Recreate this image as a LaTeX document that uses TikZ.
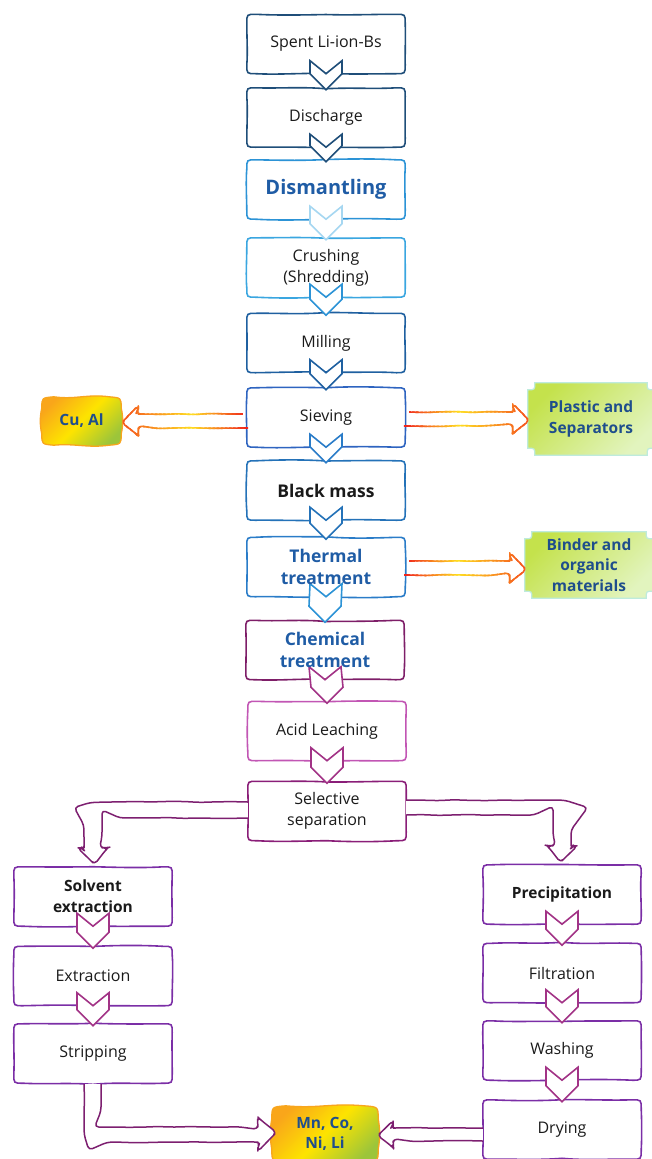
\documentclass[tikz,border=0pt]{standalone}
\usepackage{fontspec}
\setmainfont{Open Sans}
\usetikzlibrary{calc,decorations.pathmorphing}
\pgfdeclarelayer{background}
\pgfdeclarelayer{mid}
\pgfsetlayers{background,mid,main}

\definecolor{navy}{HTML}{1F4E79}
\definecolor{dblue}{HTML}{2C93D6}
\definecolor{lblue}{HTML}{3AA6E0}
\definecolor{mblue}{HTML}{1F60A0}
\definecolor{sblue}{HTML}{2E64C0}
\definecolor{kblue}{HTML}{2472B8}
\definecolor{tblue}{HTML}{2A7CC8}
\definecolor{plum}{HTML}{7E1E68}
\definecolor{pinkv}{HTML}{C256B4}
\definecolor{selv}{HTML}{8A1E78}
\definecolor{viol}{HTML}{7B2EA6}
\definecolor{barrow}{HTML}{7D1F70}
\definecolor{chpur}{HTML}{A23386}
\definecolor{txt}{HTML}{1A1A1A}
\definecolor{btxt}{HTML}{1F5CA5}
\definecolor{blobtxt}{HTML}{1F4E8C}
\definecolor{gred}{HTML}{F0261C}
\definecolor{gyel}{HTML}{FFDD22}
\definecolor{gtip}{HTML}{F55A1E}
\definecolor{cuor}{HTML}{F9A61A}
\definecolor{cuyel}{HTML}{FDE400}
\definecolor{cugrn}{HTML}{9CC53A}
\definecolor{cuedge}{HTML}{F8A51E}
\definecolor{gntop}{HTML}{C4E24C}
\definecolor{gnbot}{HTML}{E2F4BE}
\definecolor{gnedge}{HTML}{BEEBDD}

\newcommand\regf{\fontsize{16}{21}\selectfont}
\newcommand\bigbf{\fontsize{20}{24}\bfseries\selectfont}
\newcommand\midbf{\fontsize{17.5}{22}\bfseries\selectfont}
\newcommand\smbf{\fontsize{15.5}{21}\bfseries\selectfont}
\newcommand\blobf{\fontsize{15.5}{20.5}\bfseries\selectfont}

\tikzset{
  box/.style={minimum width=158pt, minimum height=59pt, inner sep=0pt, align=center, font=\regf, text=txt},
  wobA/.style={decorate, decoration={random steps, segment length=16pt, amplitude=0.6pt}, rounded corners=4pt},
  chevst/.style={fill=white, line width=1.6pt, line join=miter},
  blob/.style={inner sep=0pt, align=center, font=\blobf, text=blobtxt},
  parrow/.style={draw=barrow, fill=white, line width=1.5pt, wobA, line join=round}
}

% hand-drawn rounded box round node #1 in colour #2
\newcommand\handbox[2]{%
  \pgfmathsetmacro\ra{1.5*rand}\pgfmathsetmacro\rb{1.5*rand}%
  \pgfmathsetmacro\rc{1.5*rand}\pgfmathsetmacro\rd{1.5*rand}%
  \pgfmathsetmacro\re{1.5*rand}\pgfmathsetmacro\rf{1.5*rand}%
  \pgfmathsetmacro\rg{1.5*rand}\pgfmathsetmacro\rh{1.5*rand}%
  \pgfmathsetmacro\ri{1.2*rand}\pgfmathsetmacro\rj{1.2*rand}%
  \pgfmathsetmacro\rk{1.2*rand}\pgfmathsetmacro\rl{1.2*rand}%
  \draw[draw=#2, line width=1.6pt]
   ($(#1.north west)+(0,9)$) .. controls (#1.north west) .. ($(#1.north west)+(9,0)$)
   .. controls ($(#1.north west)!0.2!(#1.north east)+(0,\ra)$) and ($(#1.north west)!0.35!(#1.north east)+(0,\rb)$) .. ($(#1.north)+(0,0.5*\ra-0.5*\rb)$)
   .. controls ($(#1.north west)!0.65!(#1.north east)+(0,\rc)$) and ($(#1.north west)!0.8!(#1.north east)+(0,\rd)$) .. ($(#1.north east)+(-9,0)$)
   .. controls (#1.north east) .. ($(#1.north east)+(0,9)$)
   .. controls ($(#1.north east)!0.35!(#1.south east)+(\ri,0)$) and ($(#1.north east)!0.65!(#1.south east)+(\rj,0)$) .. ($(#1.south east)+(0,-9)$)
   .. controls (#1.south east) .. ($(#1.south east)+(-9,0)$)
   .. controls ($(#1.south east)!0.2!(#1.south west)+(0,\re)$) and ($(#1.south east)!0.35!(#1.south west)+(0,\rf)$) .. ($(#1.south)+(0,0.5*\re-0.5*\rf)$)
   .. controls ($(#1.south east)!0.65!(#1.south west)+(0,\rg)$) and ($(#1.south east)!0.8!(#1.south west)+(0,\rh)$) .. ($(#1.south west)+(9,0)$)
   .. controls (#1.south west) .. ($(#1.south west)+(0,-9)$)
   .. controls ($(#1.south west)!0.35!(#1.north west)+(\rk,0)$) and ($(#1.south west)!0.65!(#1.north west)+(\rl,0)$) .. ($(#1.north west)+(0,9)$) -- cycle;}

% chevron from node #1 to node #2
\newcommand\chev[3]{%
  \draw[chevst, draw=#3] ($(#1.south)+(-16,-13)$) -- (#1.south) -- ($(#1.south)+(16,-13)$)
    -- ($(#2.north)+(16,-14)$) -- ($(#2.north)+(0,2)$) -- ($(#2.north)+(-16,-14)$) -- cycle;}

% gradient block arrow: #1 tail, #2 tip, #3 direction (+1 right, -1 left), #4 seed
\newcommand\gradarrow[4]{%
  \foreach \i in {0,...,29}{%
    \pgfmathsetmacro\gt{\i/29}%
    \pgfmathsetmacro\gq{\gt<0.45 ? 100-100*\gt/0.45 : 100*(\gt-0.45)/0.55}%
    \ifdim\gt pt<0.45pt \colorlet{segc}{gred!\gq!gyel}\else\colorlet{segc}{gtip!\gq!gyel}\fi
    \begin{scope}
      \clip let \p1=(#1),\p2=(#2) in ({\x1+(\x2-\x1)*(\i-0.3)/30},0pt) rectangle ({\x1+(\x2-\x1)*(\i+1.3)/30},-1200pt);
      \pgfmathsetseed{#4}%
      \draw[segc, line width=1.6pt, wobA, line join=round] ($(#1)+(0,-7)$) -- ($(#2)+({-15*(#3)},-7)$)
        -- ($(#2)+({-15*(#3)},-15)$) -- (#2) -- ($(#2)+({-15*(#3)},15)$) -- ($(#2)+({-15*(#3)},7)$)
        -- ($(#1)+(0,7)$) -- cycle;
    \end{scope}}}

\begin{document}
\begin{tikzpicture}[x=1pt,y=-1pt]
\pgfmathsetseed{12345}
\useasboundingbox (0,0) rectangle (652,1159);

% ---------- main column ----------
\node[box] (b1) at (326,44) {Spent Li-ion-Bs};
\node[box] (b2) at (326,117.5) {Discharge};
\node[box, font=\bigbf, text=btxt] (b3) at (326,189.5) {Dismantling};
\node[box] (b4) at (326,267.5) {Crushing\\(Shredding)};
\node[box] (b5) at (326,343) {Milling};
\node[box] (b6) at (326,417.5) {Sieving};
\node[box, font=\midbf] (b7) at (326,490.5) {Black mass};
\node[box, font=\midbf, text=btxt] (b8) at (326,567) {Thermal\\treatment};
\node[box, font=\midbf, text=btxt] (b9) at (325,650) {Chemical\\treatment};
\node[box] (b10) at (327,731) {Acid Leaching};
\node[box] (b11) at (327,811) {Selective\\separation};
% ---------- left column ----------
\node[box, font=\smbf] (l1) at (93,896.5) {Solvent\\extraction};
\node[box] (l2) at (93,976) {Extraction};
\node[box] (l3) at (93,1053.5) {Stripping};
% ---------- right column ----------
\node[box, font=\smbf] (r1) at (562,894.5) {Precipitation};
\node[box] (r2) at (562,973) {Filtration};
\node[box] (r3) at (562,1050.5) {Washing};
\node[box] (r4) at (562,1129.5) {Drying};
% ---------- side products ----------
\node[blob, minimum width=77pt, minimum height=48pt] (cu) at (81.5,421) {Cu, Al};
\node[blob, minimum width=126pt, minimum height=72pt] (pl) at (591,419) {Plastic and\\Separators};
\node[blob, minimum width=128pt, minimum height=66pt] (bi) at (589,565) {Binder and\\organic\\materials};
\node[blob, minimum width=104pt, minimum height=56pt] (mn) at (325,1134) {Mn, Co,\\Ni, Li};

% ---------- box borders ----------
\begin{pgfonlayer}{background}
\foreach \n/\c [count=\k] in {b1/navy,b2/navy,b3/dblue,b4/lblue,b5/mblue,b6/sblue,b7/kblue,b8/tblue,
   b9/plum,b10/pinkv,b11/selv,l1/viol,l2/viol,l3/viol,r1/viol,r2/viol,r3/viol,r4/viol}{
  \pgfmathsetseed{\k*37}
  \handbox{\n}{\c}
}
% Cu, Al and Mn blobs (soft rounded, slightly bulging)
\foreach \n/\r in {cu/11,mn/13}{
\path[draw=cuedge, line width=1.3pt, top color=cuor, bottom color=cugrn, middle color=cuyel, shading angle=45]
  ($(\n.north west)+(-1,\r)$) .. controls ($(\n.north west)+(-1,1)$) .. ($(\n.north west)+(\r,0)$)
  .. controls ($(\n.north)+(-6,3)$) and ($(\n.north)+(6,-3)$) .. ($(\n.north east)+(-\r,0)$)
  .. controls ($(\n.north east)+(1,1)$) .. ($(\n.north east)+(1,\r)$)
  .. controls ($(\n.east)+(3,-4)$) and ($(\n.east)+(3,4)$) .. ($(\n.south east)+(1,-\r)$)
  .. controls ($(\n.south east)+(1,-1)$) .. ($(\n.south east)+(-\r,0)$)
  .. controls ($(\n.south)+(6,3)$) and ($(\n.south)+(-6,-2)$) .. ($(\n.south west)+(\r,0)$)
  .. controls ($(\n.south west)+(-1,-1)$) .. ($(\n.south west)+(-1,-\r)$)
  .. controls ($(\n.west)+(-3,4)$) and ($(\n.west)+(-3,-4)$) .. ($(\n.north west)+(-1,\r)$) -- cycle;
}
% green plaques
\foreach \n in {pl,bi}{
  \path[draw=gnedge, line width=1.2pt, top color=gntop, bottom color=gnbot, shading angle=45]
    ($(\n.north west)+(7,0)$) -- ($(\n.north east)+(-7,0)$)
    .. controls ($(\n.north east)+(-7,7)$) .. ($(\n.north east)+(0,7)$)
    -- ($(\n.south east)+(0,-7)$)
    .. controls ($(\n.south east)+(-7,-7)$) .. ($(\n.south east)+(-7,0)$)
    -- ($(\n.south west)+(7,0)$)
    .. controls ($(\n.south west)+(7,-7)$) .. ($(\n.south west)+(0,-7)$)
    -- ($(\n.north west)+(0,7)$)
    .. controls ($(\n.north west)+(7,7)$) .. ($(\n.north west)+(7,0)$) -- cycle;
}
\end{pgfonlayer}

% ---------- chevrons ----------
\begin{pgfonlayer}{mid}
\chev{b1}{b2}{navy}
\chev{b2}{b3}{navy}
\chev{b3}{b4}{lblue!45}
\chev{b4}{b5}{dblue}
\chev{b5}{b6}{mblue}
\chev{b6}{b7}{tblue}
\chev{b7}{b8}{kblue}
\chev{b8}{b9}{dblue}
\chev{b9}{b10}{chpur}
\chev{b10}{b11}{chpur}
\chev{l1}{l2}{chpur}
\chev{l2}{l3}{chpur}
\chev{r1}{r2}{chpur}
\chev{r2}{r3}{chpur}
\chev{r3}{r4}{chpur}
\end{pgfonlayer}

% ---------- gradient side arrows ----------
\coordinate (t1) at (b6.west |- cu.east);
\coordinate (p1) at ($(cu.east)+(3,0)$);
\coordinate (t2) at (b6.east |- pl.west);
\coordinate (t3) at ($(b8.east |- bi.west)+(0,3)$);
\coordinate (p3) at ($(bi.west)+(0,3)$);
\gradarrow{t1}{p1}{-1}{701}
\gradarrow{t2}{pl.west}{1}{702}
\gradarrow{t3}{p3}{1}{703}

% ---------- purple block arrows ----------
\coordinate (kL) at (b11.west -| l1.north);
\coordinate (kR) at (b11.east -| r1.north);
\coordinate (kB) at (l3.south |- mn.west);
\coordinate (kD) at (mn.east -| r4.west);

\pgfmathsetseed{801}
\draw[parrow] ($(b11.west)+(0,-9)$) -- ($(kL)+(17,-9)$) .. controls ($(kL)+(-9,-9)$) .. ($(kL)+(-9,18)$)
  -- ($(l1.north)+(-9,-19)$) -- ($(l1.north)+(-15,-19)$) -- ($(l1.north)+(0,-4)$)
  -- ($(l1.north)+(15,-19)$) -- ($(l1.north)+(9,-19)$) -- ($(kL)+(9,21)$)
  .. controls ($(kL)+(9,7)$) .. ($(kL)+(23,7)$) -- ($(b11.west)+(0,7)$);

\pgfmathsetseed{802}
\draw[parrow] ($(b11.east)+(0,-11)$) -- ($(kR)+(-17,-11)$) .. controls ($(kR)+(9,-11)$) .. ($(kR)+(9,15)$)
  -- ($(r1.north)+(9,-19)$) -- ($(r1.north)+(15,-19)$) -- ($(r1.north)+(0,-4)$)
  -- ($(r1.north)+(-15,-19)$) -- ($(r1.north)+(-9,-19)$) -- ($(kR)+(-9,19)$)
  .. controls ($(kR)+(-9,4)$) .. ($(kR)+(-24,4)$) -- ($(b11.east)+(0,4)$);

\pgfmathsetseed{803}
\draw[parrow] ($(l3.south)+(-9,1)$) -- ($(kB)+(-9,-19)$) .. controls ($(kB)+(-9,8)$) .. ($(kB)+(18,8)$)
  -- ($(mn.west)+(-15,8)$) -- ($(mn.west)+(-15,17)$) -- ($(mn.west)+(2,0)$)
  -- ($(mn.west)+(-15,-17)$) -- ($(mn.west)+(-15,-7)$) -- ($(kB)+(20,-7)$)
  .. controls ($(kB)+(8,-7)$) .. ($(kB)+(8,-19)$) -- ($(l3.south)+(8,1)$);

\pgfmathsetseed{804}
\draw[parrow] ($(kD)+(0,-6)$) -- ($(mn.east)+(16,-6)$) -- ($(mn.east)+(16,-13)$) -- ($(mn.east)+(2,0)$)
  -- ($(mn.east)+(16,14)$) -- ($(mn.east)+(16,7)$) -- ($(kD)+(0,7)$);
\end{tikzpicture}
\end{document}
